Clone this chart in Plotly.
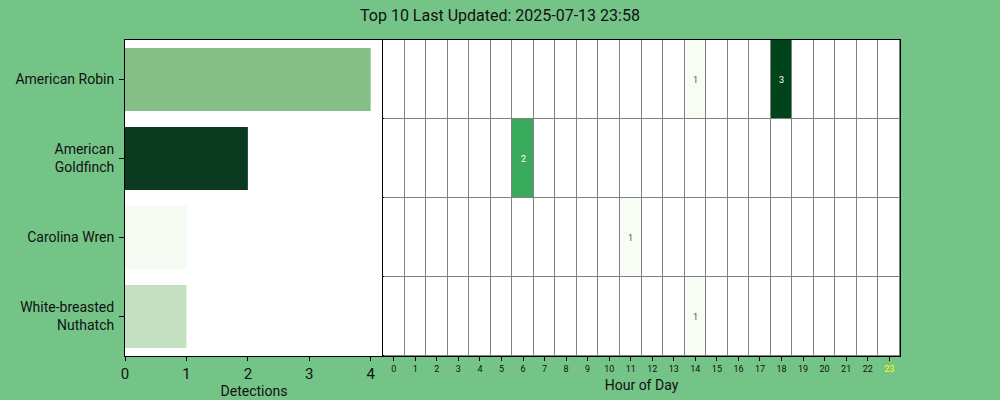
import plotly.graph_objects as go

species = ["American Robin", "American Goldfinch", "Carolina Wren", "White-breasted Nuthatch"]
species_labels = ["American Robin", "American<br>Goldfinch", "Carolina Wren", "White-breasted<br>Nuthatch"]
detections = [4, 2, 1, 1]
bar_colors = ["#85bf87", "#0a3a20", "#f5faf3", "#c3e0c1"]
hours = list(range(24))
# hourly detections per species
hourly = {
    "American Robin": {14: 1, 18: 3},
    "American Goldfinch": {6: 2},
    "Carolina Wren": {11: 1},
    "White-breasted Nuthatch": {14: 1},
}
title_text = "Top 10 Last Updated: 2025-07-13 23:58"

z = [[hourly[s].get(h, 0) for h in hours] for s in species]
ys = list(range(len(species)))

BG = "#75c487"
FONT = "Roboto"

fig = go.Figure()
fig.add_trace(go.Bar(
    x=detections, y=ys, orientation="h", width=0.8,
    marker=dict(color=bar_colors, line=dict(width=0)),
    xaxis="x", yaxis="y", showlegend=False, hoverinfo="skip",
))
fig.add_trace(go.Heatmap(
    z=z, x=hours, y=ys, xaxis="x2", yaxis="y2",
    zmin=0, zmax=3, showscale=False, xgap=1, ygap=1,
    colorscale=[[0, "#ffffff"], [0.2, "#ffffff"], [0.3333, "#f7fcf5"],
                [0.6667, "#3aaa5d"], [1, "#00441b"]],
    hoverinfo="skip",
))

annotations = []
for i, s in enumerate(species):
    for h in hours:
        v = z[i][h]
        if v:
            annotations.append(dict(
                x=h, y=i, xref="x2", yref="y2", text=str(v), showarrow=False,
                font=dict(size=9, color="#555555" if v == 1 else "white", family=FONT),
            ))

ticktext = [str(h) for h in hours]
ticktext[-1] = "<span style='color:yellow'>23</span>"

split = 258 / 775
fig.update_layout(
    width=1000, height=400,
    paper_bgcolor=BG, plot_bgcolor="white",
    margin=dict(l=125, r=100, t=40, b=44),
    font=dict(family=FONT, color="#111111"),
    title=dict(text=title_text, x=0.5, xanchor="center", y=0.962, yanchor="middle",
               font=dict(size=16, family=FONT, color="#111111")),
    annotations=annotations,
    bargap=0.2,
    xaxis=dict(domain=[0, split], range=[0, 4.2], tickvals=[0, 1, 2, 3, 4],
               showgrid=False, zeroline=False, showline=True, linecolor="black",
               linewidth=1, mirror=True, ticks="outside", ticklen=4, tickcolor="black",
               automargin=False,
               tickfont=dict(size=15), title=dict(text="Detections", font=dict(size=14), standoff=2)),
    yaxis=dict(range=[3.5, -0.5], tickvals=ys, ticktext=species_labels,
               showgrid=False, zeroline=False, showline=True, linecolor="black",
               linewidth=1, mirror=True, ticks="outside", ticklen=5, tickcolor="black",
               ticklabelstandoff=2,
               automargin=False, tickfont=dict(size=14)),
    xaxis2=dict(domain=[split, 1], range=[-0.5, 23.5], tickvals=hours, ticktext=ticktext,
                showgrid=False, zeroline=False, showline=True, linecolor="black",
                linewidth=1, mirror=True, ticks="outside", ticklen=4, tickcolor="black",
                tickfont=dict(size=9), tickangle=0, automargin=False,
                title=dict(text="Hour of Day", font=dict(size=14), standoff=7)),
    yaxis2=dict(anchor="x2", range=[3.5, -0.5], showticklabels=False, showgrid=False,
                zeroline=False, showline=True, linecolor="black", linewidth=1, mirror=True,
                ticks="", automargin=False),
)
# gray cell separators show through gaps
fig.add_shape(type="rect", xref="x2 domain", yref="y2 domain", x0=0, x1=1, y0=0, y1=1,
              fillcolor="#808080", line=dict(width=0), layer="below")

fig.write_html("out.html", config={"displayModeBar": False},
               post_script="document.body.style.margin='0';document.body.style.background='" + BG + "';")
